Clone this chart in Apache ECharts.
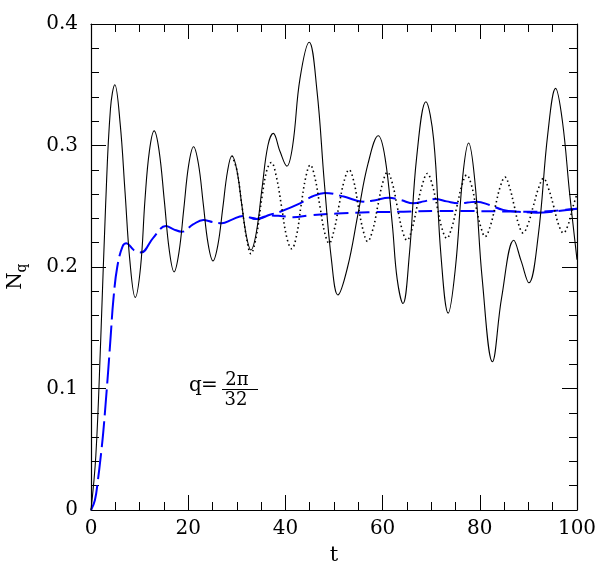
<!DOCTYPE html>
<html>
<head>
<meta charset="utf-8">
<script src="https://cdn.jsdelivr.net/npm/echarts@6/dist/echarts.min.js"></script>
<style>
  html, body { margin: 0; padding: 0; background: #fff; }
  #chart { width: 603px; height: 571px; }
</style>
</head>
<body>
<div id="chart"></div>
<script>
// t, N_q
const solidCurve = [
  [0, 0], [1, 0.045], [2, 0.14], [3, 0.25], [4, 0.33], [4.9, 0.35],
  [6, 0.318], [7, 0.262], [8, 0.205], [9.1, 0.175], [10.2, 0.2], [11.1, 0.255],
  [12, 0.295], [13, 0.312], [14, 0.296], [15.1, 0.254], [16.1, 0.214], [17.1, 0.196],
  [18.1, 0.212], [19.1, 0.248], [20.1, 0.284], [21.1, 0.299], [22.1, 0.285], [23.1, 0.252],
  [24.1, 0.219], [25.1, 0.205], [26.1, 0.218], [27.1, 0.248], [28.1, 0.279], [29, 0.2916],
  [30, 0.28], [31, 0.252], [32, 0.225], [32.9, 0.214], [34, 0.228], [35.2, 0.265],
  [36.4, 0.3], [37.5, 0.31], [38.9, 0.295], [40.3, 0.283], [41.5, 0.3], [43, 0.355],
  [44.9, 0.385], [46.5, 0.345], [48, 0.27], [49.5, 0.205], [50.8, 0.177], [52.8, 0.2],
  [55, 0.245], [57, 0.285], [59.1, 0.308], [60.5, 0.29], [62, 0.235], [63, 0.19],
  [64.2, 0.17], [65.5, 0.21], [67, 0.29], [68.9, 0.336], [70.5, 0.305], [72, 0.21],
  [73.5, 0.162], [75, 0.2], [76.5, 0.275], [77.7, 0.302], [79, 0.27], [80.5, 0.19],
  [82.6, 0.122], [84.5, 0.175], [87, 0.222], [88.5, 0.205], [90.1, 0.187], [92, 0.225],
  [94, 0.31], [95.6, 0.347], [97, 0.32], [98.5, 0.26], [100, 0.206]
];

const dottedCurve = [
  [29, 0.2916], [30, 0.28], [31, 0.252], [32, 0.224], [32.9, 0.211], [34, 0.225],
  [35.2, 0.258], [36.2, 0.28], [37.1, 0.286], [38.1, 0.275], [39.2, 0.25], [40.3, 0.224],
  [41.3, 0.215], [42.3, 0.226], [43.2, 0.25], [44.2, 0.274], [45.1, 0.284], [46.1, 0.273],
  [47.1, 0.25], [48.1, 0.228], [49, 0.2195], [50, 0.23], [51, 0.25], [52.1, 0.271],
  [53.1, 0.28], [54.1, 0.27], [55, 0.25], [56, 0.23], [56.9, 0.221], [58, 0.231],
  [59, 0.25], [60, 0.269], [61, 0.278], [62, 0.269], [63, 0.25], [64, 0.231],
  [65, 0.222], [66.1, 0.232], [67.1, 0.25], [68.2, 0.268], [69.2, 0.277], [70.2, 0.268],
  [71.2, 0.25], [72.2, 0.232], [73.2, 0.2236], [74.2, 0.232], [75.3, 0.25], [76.3, 0.267],
  [77.3, 0.2757], [78.3, 0.267], [79.2, 0.25], [80.2, 0.233], [81.1, 0.225], [82.1, 0.233],
  [83.2, 0.25], [84.2, 0.266], [85.2, 0.274], [86.1, 0.266], [87.1, 0.25], [88, 0.235],
  [88.9, 0.228], [89.9, 0.235], [91, 0.25], [92.1, 0.265], [93.1, 0.273], [94.1, 0.265],
  [95.2, 0.25], [96.2, 0.235], [97.2, 0.228], [98.2, 0.235], [99.2, 0.25], [100, 0.26]
];

const longDashCurve = [
  [0, 0], [0.8, 0.008], [1.5, 0.027], [2, 0.044], [2.5, 0.063], [3, 0.087],
  [3.6, 0.118], [4.1, 0.146], [4.6, 0.173], [5.4, 0.2], [6.5, 0.217], [7.3, 0.2195],
  [8.8, 0.214], [10.3, 0.212], [12.8, 0.224], [15.4, 0.2337], [17, 0.231], [18.7, 0.229],
  [21, 0.235], [23.1, 0.2387], [25, 0.237], [26.9, 0.236], [29, 0.239], [31.3, 0.242],
  [34.1, 0.2395], [36.8, 0.243], [38.9, 0.2455], [43, 0.2524], [45.5, 0.258], [48.1, 0.261],
  [52, 0.258], [56, 0.2538], [58.5, 0.255], [61.2, 0.257], [63.8, 0.255], [66.3, 0.2524],
  [68.5, 0.254], [70.8, 0.256], [73.2, 0.254], [75.6, 0.2524], [77.5, 0.253], [79.4, 0.2538],
  [82, 0.251], [84.8, 0.247], [88, 0.2455], [91.7, 0.2447], [96, 0.246], [100, 0.248]
];

const shortDashCurve = [
  [33, 0.2405], [34.1, 0.2395], [36.8, 0.2425], [39, 0.242], [41.6, 0.241], [45, 0.2425],
  [50.6, 0.244], [57, 0.245], [64.3, 0.2455], [71, 0.246], [78, 0.246], [85, 0.2457],
  [91.7, 0.2455], [96, 0.2465], [100, 0.248]
];

const xTicks = [0, 20, 40, 60, 80, 100];
const yTicks = [0, 0.1, 0.2, 0.3, 0.4];

const chart = echarts.init(document.getElementById('chart'));

const FONT = 'DejaVu Serif';
const tickStyle = { show: true, inside: true, length: 15, lineStyle: { color: '#000', width: 1 } };
const minorStyle = { show: true, length: 8, lineStyle: { color: '#000', width: 1 } };
const lineAxis = { show: true, onZero: false, lineStyle: { color: '#000', width: 1.2 } };

function xAxis(pos, labels) {
  return {
    type: 'value', position: pos, min: xTicks[0], max: xTicks[xTicks.length - 1], interval: 20,
    axisLine: lineAxis, axisTick: tickStyle,
    minorTick: Object.assign({ splitNumber: 4 }, minorStyle),
    splitLine: { show: false },
    axisLabel: { show: labels, color: '#000', fontFamily: FONT, fontSize: 20, margin: 9 },
    name: labels ? 't' : '', nameLocation: 'middle', nameGap: 35,
    nameTextStyle: { color: '#000', fontFamily: FONT, fontSize: 21 }
  };
}
function yAxis(pos, labels) {
  return {
    type: 'value', position: pos, min: yTicks[0], max: yTicks[yTicks.length - 1], interval: 0.1,
    axisLine: lineAxis, axisTick: tickStyle,
    minorTick: Object.assign({ splitNumber: 5 }, minorStyle),
    splitLine: { show: false },
    axisLabel: {
      show: labels, color: '#000', fontFamily: FONT, fontSize: 20, margin: 13,
      formatter: v => (v === 0 ? '0' : v.toFixed(1))
    }
  };
}

const txt = (text, size, align) => ({
  text: text, fill: '#000', fontFamily: FONT, fontSize: size, align: align, verticalAlign: 'middle'
});

const option = {
  animation: false,
  backgroundColor: '#fff',
  grid: { left: 91, right: 26, top: 24, bottom: 61 },
  xAxis: [xAxis('bottom', true), xAxis('top', false)],
  yAxis: [yAxis('left', true), yAxis('right', false)],
  series: [
    {
      type: 'line', data: longDashCurve, smooth: 0.4, symbol: 'none',
      lineStyle: { color: '#0000ff', width: 2, type: [26, 6] }
    },
    {
      type: 'line', data: shortDashCurve, smooth: 0.4, symbol: 'none',
      lineStyle: { color: '#0000ff', width: 2, type: [14, 7] }
    },
    {
      type: 'line', data: dottedCurve, smooth: 0.4, symbol: 'none',
      lineStyle: { color: '#000', width: 1.6, type: [1.5, 3] }
    },
    {
      type: 'line', data: solidCurve, smooth: 0.4, symbol: 'none',
      lineStyle: { color: '#000', width: 1.1 }
    }
  ],
  graphic: [
    {
      type: 'group', x: 16, y: 273, rotation: Math.PI / 2,
      children: [
        { type: 'text', x: -8, y: 0, style: txt('N', 20, 'center') },
        { type: 'text', x: 5, y: 6, style: txt('q', 14, 'center') }
      ]
    },
    { type: 'text', x: 189, y: 386, style: txt('q', 20, 'left') },
    { type: 'text', x: 201, y: 386, style: txt('=', 20, 'left') },
    { type: 'text', x: 237, y: 380, style: txt('2π', 18, 'center') },
    { type: 'line', shape: { x1: 222, y1: 389.5, x2: 258, y2: 389.5 }, style: { stroke: '#000', lineWidth: 1 } },
    { type: 'text', x: 236, y: 400, style: txt('32', 18, 'center') }
  ]
};

chart.setOption(option);
</script>
</body>
</html>
